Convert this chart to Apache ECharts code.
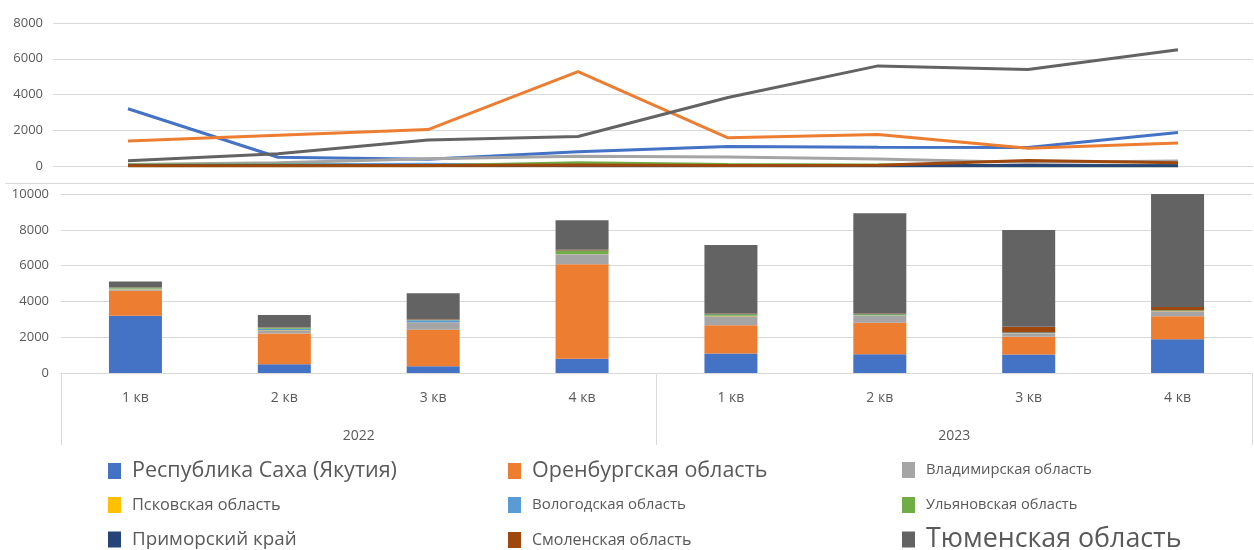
<!DOCTYPE html>
<html>
<head>
<meta charset="utf-8">
<script src="https://cdn.jsdelivr.net/npm/echarts@6/dist/echarts.min.js"></script>
<style>
  html, body { margin: 0; padding: 0; background: #ffffff; }
  #chart { width: 1254px; height: 550px; }
</style>
</head>
<body>
<div id="chart"></div>
<script>
// Quarterly volumes by region, 2022–2023
const quarters = ['1 кв', '2 кв', '3 кв', '4 кв', '1 кв', '2 кв', '3 кв', '4 кв'];
const years = ['2022', '2023'];
const topTicks = [0, 2000, 4000, 6000, 8000];
const bottomTicks = [0, 2000, 4000, 6000, 8000, 10000];

const yakutia   = [3200, 490, 380, 800, 1090, 1050, 1030, 1880];
const orenburg  = [1400, 1720, 2040, 5280, 1580, 1760, 990, 1290];
const vladimir  = [80, 180, 410, 540, 500, 390, 190, 280];
const pskov     = [10, 10, 10, 10, 10, 10, 10, 10];
const vologda   = [30, 70, 100, 20, 20, 20, 10, 10];
const ulyanovsk = [60, 60, 20, 180, 80, 50, 20, 20];
const primorye  = [10, 10, 10, 10, 10, 10, 30, 20];
const smolensk  = [20, 20, 30, 50, 30, 40, 310, 180];
const tyumen    = [300, 680, 1450, 1650, 3830, 5600, 5400, 6500];

const regions = [
  { name: 'Республика Саха (Якутия)', data: yakutia,   color: '#4472C4' },
  { name: 'Оренбургская область',     data: orenburg,  color: '#ED7D31' },
  { name: 'Владимирская область',     data: vladimir,  color: '#A5A5A5' },
  { name: 'Псковская область',        data: pskov,     color: '#FFC000' },
  { name: 'Вологодская область',      data: vologda,   color: '#5B9BD5' },
  { name: 'Ульяновская область',      data: ulyanovsk, color: '#70AD47' },
  { name: 'Приморский край',          data: primorye,  color: '#264478' },
  { name: 'Смоленская область',       data: smolensk,  color: '#9E480E' },
  { name: 'Тюменская область',        data: tyumen,    color: '#636363' }
];

// Legend layout: three columns, three rows, each entry with its own text size
const legendSpec = [
  { left: 108, top: 460, size: 21.5 },
  { left: 508, top: 460, size: 21.5 },
  { left: 902, top: 462, size: 14.8 },
  { left: 108, top: 497, size: 16.3 },
  { left: 508, top: 497, size: 15 },
  { left: 902, top: 497, size: 14.6 },
  { left: 108, top: 530, size: 18.8 },
  { left: 508, top: 532, size: 16 },
  { left: 902, top: 526, size: 26.8 }
];

const FONT = 'Open Sans, Noto Sans, sans-serif';
const LABEL = '#595959';
const GRIDLINE = '#d9d9d9';

const series = [];
regions.forEach(r => {
  series.push({
    type: 'bar', name: r.name, stack: 'total',
    xAxisIndex: 1, yAxisIndex: 1,
    barWidth: 53,
    itemStyle: { color: r.color },
    data: r.data
  });
});
regions.forEach(r => {
  series.push({
    type: 'line', name: r.name,
    xAxisIndex: 0, yAxisIndex: 0,
    symbol: 'none',
    lineStyle: { color: r.color, width: 3 },
    itemStyle: { color: r.color },
    data: r.data
  });
});

const legends = regions.map((r, i) => ({
  left: legendSpec[i].left,
  top: legendSpec[i].top,
  padding: 0,
  icon: 'rect',
  itemWidth: 13,
  itemHeight: 16,
  selectedMode: false,
  data: [r.name],
  textStyle: {
    fontFamily: FONT,
    fontSize: legendSpec[i].size,
    color: LABEL,
    padding: [0, 0, 0, 6]
  }
}));

const plain = v => String(v);

const chart = echarts.init(document.getElementById('chart'), null, { renderer: 'canvas' });
chart.setOption({
  animation: false,
  backgroundColor: '#ffffff',
  textStyle: { fontFamily: FONT },
  legend: legends,
  grid: [
    { left: 53, right: 1, top: 23, height: 143 },
    { left: 61, right: 2, top: 194, height: 179 }
  ],
  xAxis: [
    {
      type: 'category', gridIndex: 0, data: quarters,
      boundaryGap: true,
      axisLine: { show: false }, axisTick: { show: false }, axisLabel: { show: false }
    },
    {
      type: 'category', gridIndex: 1, data: quarters,
      boundaryGap: true,
      axisLine: { show: true, lineStyle: { color: GRIDLINE, width: 1 } },
      axisTick: { show: false },
      axisLabel: { color: LABEL, fontSize: 14, margin: 18, fontFamily: FONT }
    },
    {
      type: 'category', gridIndex: 1, data: years, position: 'bottom',
      boundaryGap: true,
      axisLine: { show: false },
      axisTick: { show: true, length: 72, interval: 0, lineStyle: { color: GRIDLINE, width: 1 } },
      axisLabel: { color: LABEL, fontSize: 14, margin: 56, fontFamily: FONT }
    }
  ],
  yAxis: [
    {
      type: 'value', gridIndex: 0,
      min: topTicks[0], max: topTicks[topTicks.length - 1], interval: 2000,
      axisLine: { show: false }, axisTick: { show: false },
      axisLabel: { color: LABEL, fontSize: 13, margin: 10, fontFamily: FONT, formatter: plain },
      splitLine: { lineStyle: { color: GRIDLINE, width: 1 } }
    },
    {
      type: 'value', gridIndex: 1,
      min: bottomTicks[0], max: bottomTicks[bottomTicks.length - 1], interval: 2000,
      axisLine: { show: false }, axisTick: { show: false },
      axisLabel: { color: LABEL, fontSize: 13, margin: 12, fontFamily: FONT, formatter: plain },
      splitLine: { lineStyle: { color: GRIDLINE, width: 1 } }
    }
  ],
  graphic: [
    {
      type: 'line', silent: true,
      shape: { x1: 5, y1: 183.5, x2: 1254, y2: 183.5 },
      style: { stroke: GRIDLINE, lineWidth: 1 }
    }
  ],
  series: series
});
</script>
</body>
</html>
